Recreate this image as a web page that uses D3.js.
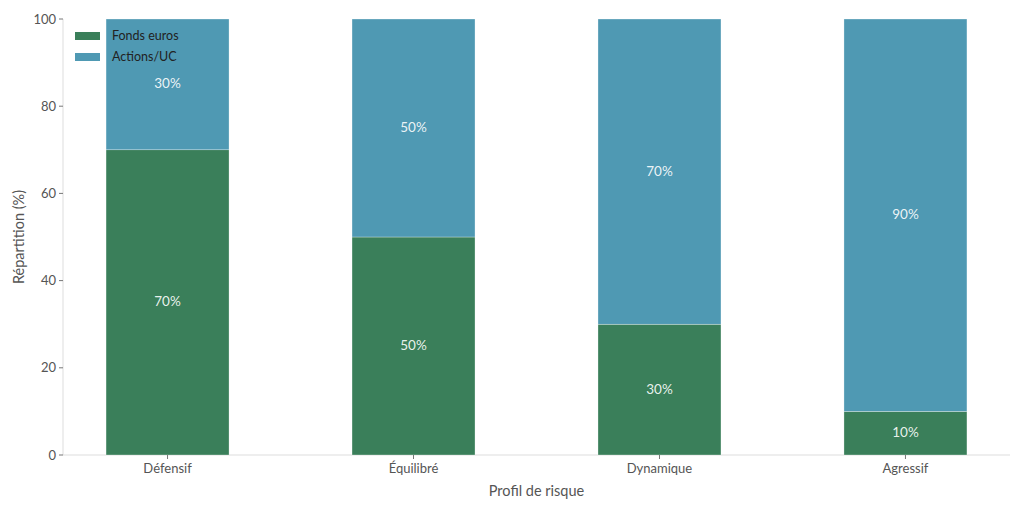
<!DOCTYPE html>
<html><head><meta charset="utf-8">
<script src="https://cdn.jsdelivr.net/npm/d3@7"></script>
<style>
body{margin:0;background:#fff;}
text{font-family:Lato,"Open Sans",sans-serif;}
</style></head>
<body><svg id="c" width="1024" height="512"></svg>
<script>
const categories = ["Défensif","Équilibré","Dynamique","Agressif"];
const fondsEuros = [70,50,30,10];
const actionsUC = [30,50,70,90];
const seriesNames = ["Fonds euros","Actions/UC"];
const yTicks = [0,20,40,60,80,100];

const colors = ["#3a7f5a","#4f99b3"];
const svg = d3.select("#c");
const L=63, R=1010, T=19, B=455;
const x = d3.scaleLinear().domain([-0.425, categories.length-1+0.425]).range([L,R]);
const y = d3.scaleLinear().domain([0,100]).range([B,T]);
const bw = x(0.25)-x(-0.25);

// spines
svg.append("line").attr("x1",L).attr("x2",L).attr("y1",T).attr("y2",B).attr("stroke","#dddddd").attr("stroke-width",1);
svg.append("line").attr("x1",L).attr("x2",R).attr("y1",B).attr("y2",B).attr("stroke","#dddddd").attr("stroke-width",1);

const stacks = [fondsEuros, actionsUC];
categories.forEach((c,i)=>{
  let base=0;
  stacks.forEach((s,k)=>{
    const v=s[i];
    svg.append("rect").attr("x",x(i)-bw/2).attr("width",bw)
      .attr("y",y(base+v)).attr("height",y(base)-y(base+v))
      .attr("fill",colors[k]).attr("stroke","#ffffff").attr("stroke-width",0.5).attr("stroke-opacity",0.6);
    svg.append("text").attr("x",x(i)).attr("y",y(base+v/2)).attr("dy","0.3em")
      .attr("text-anchor","middle").attr("fill","#ffffff").attr("fill-opacity",0.9)
      .attr("font-size",13.5).text(v+"%");
    base+=v;
  });
});

// y ticks
yTicks.forEach(t=>{
  svg.append("line").attr("x1",L-4).attr("x2",L).attr("y1",y(t)).attr("y2",y(t)).attr("stroke","#777");
  svg.append("text").attr("x",L-7).attr("y",y(t)).attr("dy","0.35em").attr("text-anchor","end")
    .attr("fill","#555").attr("font-size",13).text(t);
});
// x ticks
categories.forEach((c,i)=>{
  svg.append("line").attr("x1",x(i)).attr("x2",x(i)).attr("y1",B).attr("y2",B+4).attr("stroke","#777");
  svg.append("text").attr("x",x(i)).attr("y",B+18).attr("text-anchor","middle")
    .attr("fill","#555").attr("font-size",13).text(c);
});
svg.append("text").attr("x",(L+R)/2).attr("y",496).attr("text-anchor","middle")
  .attr("fill","#555").attr("font-size",14.5).text("Profil de risque");
svg.append("text").attr("transform",`translate(24,${(T+B)/2}) rotate(-90)`).attr("text-anchor","middle")
  .attr("fill","#555").attr("font-size",14.5).text("Répartition (%)");

// legend
seriesNames.forEach((n,k)=>{
  svg.append("rect").attr("x",75).attr("y",32+k*21).attr("width",25).attr("height",8).attr("fill",colors[k]);
  svg.append("text").attr("x",112).attr("y",36+k*21).attr("dy","0.35em").attr("fill","#222")
    .attr("font-size",12.5).text(n);
});
</script></body></html>
